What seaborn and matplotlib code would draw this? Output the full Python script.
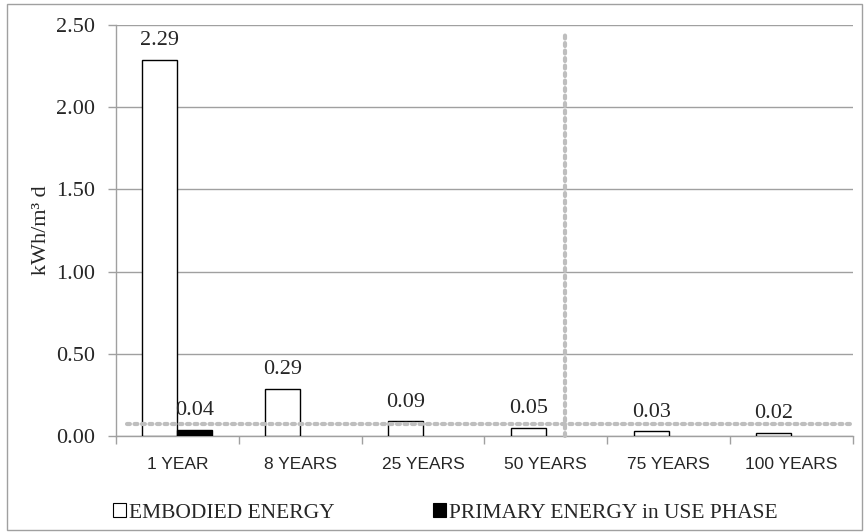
import matplotlib
matplotlib.use("Agg")
import matplotlib.pyplot as plt
from matplotlib.patches import Patch, Rectangle
import seaborn as sns
import pandas as pd
import numpy as np

# Data
periods = ["1 YEAR", "8 YEARS", "25 YEARS", "50 YEARS", "75 YEARS", "100 YEARS"]
embodied = [2.29, 0.29, 0.09, 0.05, 0.03, 0.02]
primary_use = [0.04, np.nan, np.nan, np.nan, np.nan, np.nan]
series_names = ["EMBODIED ENERGY", "PRIMARY ENERGY in USE PHASE"]
y_ticks = [0.0, 0.5, 1.0, 1.5, 2.0, 2.5]

# Reference guide lines (dashed)
h_guide_y = 0.075
h_guide_x = (-0.41, 5.48)
v_guide_x = 3.16
v_guide_top = 2.45

df = pd.DataFrame({
    "period": periods * 2,
    "series": [series_names[0]] * len(periods) + [series_names[1]] * len(periods),
    "value": embodied + primary_use,
})

sns.set_style("white")
plt.rcParams["font.family"] = ["Liberation Serif", "DejaVu Serif"]

fig = plt.figure(figsize=(8.65, 5.32), dpi=100)
ax = fig.add_axes([0.134, 0.180, 0.852, 0.773])

grid_c = "#a0a0a0"
sns.barplot(data=df, x="period", y="value", hue="series", order=periods,
            hue_order=series_names, palette=["white", "black"],
            edgecolor="black", linewidth=1.0, width=0.57, ax=ax,
            legend=False, errorbar=None, zorder=3)

# value labels, placed on each drawn bar
label_sets = [embodied, primary_use]
for cont, vals in zip(ax.containers, label_sets):
    for bar in cont:
        if bar is None:
            continue
        cx = bar.get_x() + bar.get_width() / 2
        idx = int(round(cx))
        v = vals[idx]
        if np.isnan(v):
            continue
        ax.annotate(f"{v:.2f}", (cx, v), xytext=(0, 7),
                    textcoords="offset points", ha="center", va="bottom",
                    fontsize=16, zorder=5)

ax.set_ylim(0, 2.5)
ax.set_xlim(-0.5, 5.5)
ax.set_yticks(y_ticks)
ax.set_yticklabels([f"{t:.2f}" for t in y_ticks], fontsize=16)
ax.yaxis.grid(True, color=grid_c, linewidth=1.0, zorder=0)
ax.set_axisbelow(True)

# x labels without tick marks, tick marks at category boundaries
ax.tick_params(axis="x", which="major", length=0, pad=15, labelsize=12.5)
for lab in ax.get_xticklabels():
    lab.set_family(["Liberation Sans", "DejaVu Sans"])
ax.set_xticks(np.arange(-0.5, 6.0, 1.0), minor=True)
ax.tick_params(axis="x", which="minor", length=6, color=grid_c, width=1.0,
               direction="out", bottom=True)
ax.tick_params(axis="y", length=6, color=grid_c, width=1.0, direction="out",
               left=True, pad=9)

for side in ["top", "right"]:
    ax.spines[side].set_visible(False)
for side in ["left", "bottom"]:
    ax.spines[side].set_color(grid_c)
    ax.spines[side].set_linewidth(1.0)

ax.set_xlabel("")
ax.set_ylabel("kWh/m³ d", fontsize=16)
ax.yaxis.set_label_coords(-0.088, 0.5)

# dashed guide lines
guide_kw = dict(color="#bebebe", linewidth=3.0, linestyle=(0, (0.7, 1.1)),
                dash_capstyle="round", zorder=4, clip_on=False)
ax.plot(list(h_guide_x), [h_guide_y, h_guide_y], **guide_kw)
ax.plot([v_guide_x, v_guide_x], [0, v_guide_top], **guide_kw)

# legend below the plot
handles = [Patch(facecolor="white", edgecolor="black", linewidth=0.8),
           Patch(facecolor="black", edgecolor="black", linewidth=0.8)]
fig.legend(handles, series_names, loc="center", bbox_to_anchor=(0.515, 0.036),
           ncol=2, frameon=False, fontsize=15.5, handlelength=0.6,
           handleheight=0.6, handletextpad=0.12, columnspacing=4.6,
           borderpad=0, borderaxespad=0)

# outer frame
fig.patches.append(Rectangle((0.008, 0.004), 0.989, 0.988,
                             transform=fig.transFigure, fill=False,
                             edgecolor="#a0a0a0", linewidth=1.0))

fig.savefig("out.png", dpi=100)
